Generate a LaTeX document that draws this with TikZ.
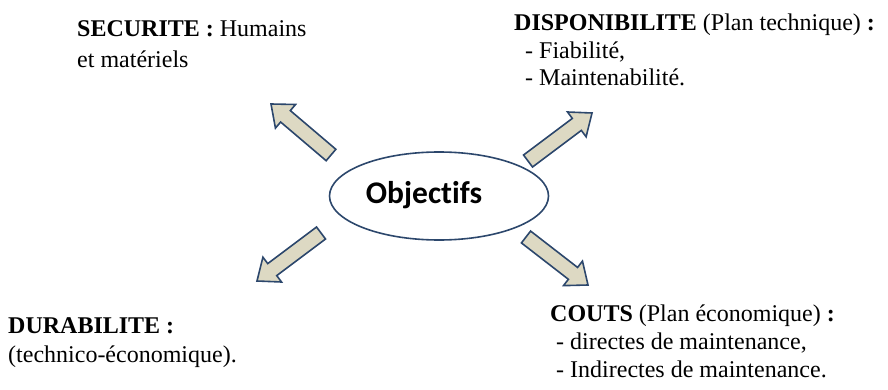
\documentclass[tikz,border=0pt]{standalone}
\usepackage{fontspec}
\setmainfont{Liberation Serif}
\newfontfamily\calibrifont[Ligatures=NoCommon]{Carlito}
\usetikzlibrary{calc,shapes.geometric}

\definecolor{edgeblue}{RGB}{44,71,108}
\definecolor{arrowtan}{RGB}{221,217,195}

\tikzset{
  label text/.style={anchor=base west, inner sep=0pt, font=\fontsize{24}{28}\selectfont},
  goal/.style={ellipse, draw=edgeblue, line width=1.6pt, fill=white,
    minimum width=219pt, minimum height=88pt, inner sep=0pt},
  arrowbody/.style={draw=edgeblue, fill=arrowtan, line width=1.6pt, line join=miter},
}

% block arrow from the tail centre #1 to the tip #2
\newcommand{\blockarrow}[2]{%
  \coordinate (ab) at ($(#2)!19pt!(#1)$);
  \draw[arrowbody] ($(#1)!7.5pt!90:(#2)$) -- ($(ab)!7.5pt!90:(#2)$) -- ($(ab)!15.5pt!90:(#2)$)
    -- (#2) -- ($(ab)!15.5pt!-90:(#2)$) -- ($(ab)!7.5pt!-90:(#2)$) -- ($(#1)!7.5pt!-90:(#2)$) -- cycle;}

\begin{document}
\begin{tikzpicture}[x=1pt, y=-1pt]
  \useasboundingbox (0,0) rectangle (888,390);

  % central ellipse
  \node[goal] (obj) at (439,196) {};
  \node[anchor=base, inner sep=0pt, font=\calibrifont\bfseries\fontsize{31.5}{36}\selectfont] (objtxt) at (424,204) {Objectifs};

  % tails and tips of the four arrows
  \coordinate (nwT) at (331,155);  \coordinate (nwP) at (271,104);
  \coordinate (neT) at (528,161);  \coordinate (neP) at (592,113);
  \coordinate (swT) at (321,233);  \coordinate (swP) at (257,281);
  \coordinate (seT) at (526,237);  \coordinate (seP) at (588,285);
  \blockarrow{nwT}{nwP}
  \blockarrow{neT}{neP}
  \blockarrow{swT}{swP}
  \blockarrow{seT}{seP}

  % the four objectives
  \node[label text] (sec1) at (77,37) {\textbf{SECURITE :} Humains};
  \node[label text] (sec2) at (77,68) {et matériels};

  \node[label text] (dis1) at (514,31) {\textbf{DISPONIBILITE} (Plan technique) \textbf{:}};
  \node[label text] (dis2) at (525,59) {- Fiabilité,};
  \node[label text] (dis3) at (525,86) {- Maintenabilité.};

  \node[label text] (dur1) at (8,333) {\textbf{DURABILITE :}};
  \node[label text] (dur2) at (8,362) {(technico-économique).};

  \node[label text] (cou1) at (550,321) {\textbf{COUTS} (Plan économique) \textbf{:}};
  \node[label text] (cou2) at (556,349) {- directes de maintenance,};
  \node[label text] (cou3) at (556,377) {- Indirectes de maintenance.};
\end{tikzpicture}
\end{document}
